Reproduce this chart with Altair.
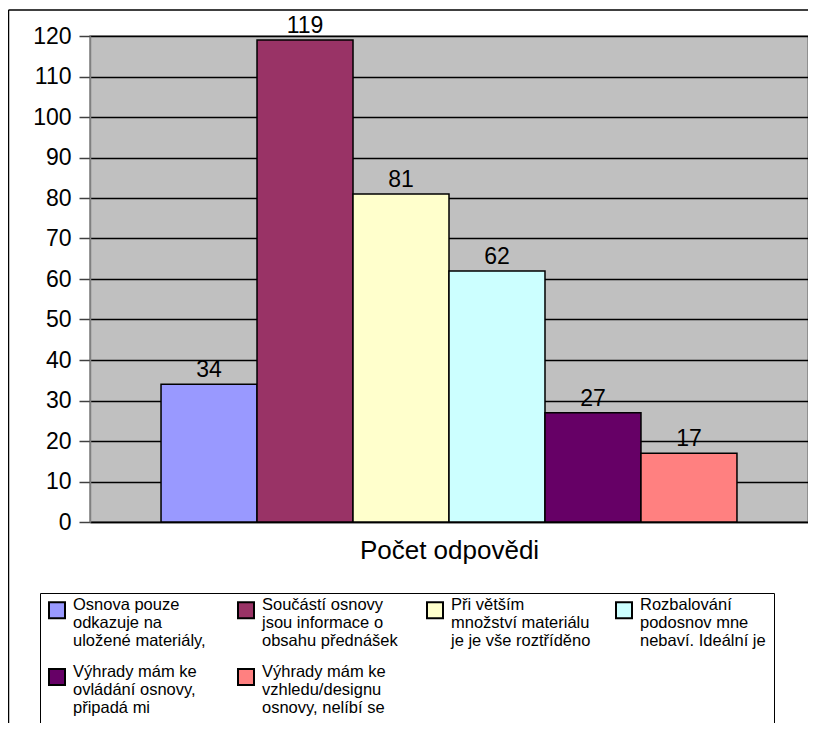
import altair as alt
import pandas as pd

# ---- data ----
categories = [
    "Osnova pouze\nodkazuje na\nuložené materiály,",
    "Součástí osnovy\njsou informace o\nobsahu přednášek",
    "Při větším\nmnožství materiálu\nje je vše roztříděno",
    "Rozbalování\npodosnov mne\nnebaví. Ideální je",
    "Výhrady mám ke\novládání osnovy,\npřipadá mi",
    "Výhrady mám ke\nvzhledu/designu\nosnovy, nelíbí se",
]
counts = [34, 119, 81, 62, 27, 17]
colors = ["#9999FF", "#993366", "#FFFFCC", "#CCFFFF", "#660066", "#FF8080"]
y_ticks = list(range(0, 121, 10))
x_title = "Počet odpovědi"

FONT = "Liberation Sans"
W, H = 718, 486

df = pd.DataFrame({"kategorie": categories, "pocet": counts})
one = pd.DataFrame({"a": [0]})

x_enc = alt.X(
    "kategorie:N",
    sort=categories,
    scale=alt.Scale(paddingInner=0, paddingOuter=0.74),
    axis=alt.Axis(
        title=x_title, labels=False, ticks=False, domain=True,
        domainColor="black", domainWidth=1.5,
        titleFontSize=26, titleFontWeight="normal", titleFont=FONT,
        titleColor="black", titlePadding=15,
    ),
)
y_enc = alt.Y(
    "pocet:Q",
    scale=alt.Scale(domain=[0, 120], nice=False),
    axis=alt.Axis(
        title=None, values=y_ticks, grid=True, gridColor="black",
        gridWidth=1.5, gridOpacity=1, domainColor="#808080", domainWidth=1.5,
        tickColor="#404040", tickSize=11, tickWidth=1.5,
        labelFontSize=23, labelFont=FONT, labelColor="black", labelPadding=8,
    ),
)

legend = alt.Legend(
    title=None, orient="none", legendX=-50, legendY=557,
    direction="horizontal", columns=4, gridAlign="all",
    symbolType="square", symbolSize=256, symbolStrokeColor="black",
    symbolStrokeWidth=2, symbolOpacity=1,
    labelFontSize=16.5, labelFont=FONT, labelColor="black", labelLimit=0,
    labelExpr="split(datum.label, '\\n')", labelBaseline="alphabetic",
    labelOffset=7, columnPadding=21, rowPadding=14, padding=8,
    strokeColor="black", fillColor="white",
)

bars = alt.Chart(df).mark_bar(stroke="black", strokeWidth=1.5, opacity=1).encode(
    x=x_enc,
    y=y_enc,
    color=alt.Color("kategorie:N", sort=categories,
                    scale=alt.Scale(domain=categories, range=colors),
                    legend=legend),
)

labels = alt.Chart(df).mark_text(
    baseline="bottom", dy=-2, fontSize=23, font=FONT, color="black"
).encode(
    x=alt.X("kategorie:N", sort=categories),
    y=alt.Y("pocet:Q"),
    text="pocet:Q",
)

frame_top = alt.Chart(one).mark_rule(color="black", strokeWidth=1.5).encode(
    x=alt.value(-81.5), x2=alt.value(W), y=alt.value(-26)
)
frame_left = alt.Chart(one).mark_rule(color="black", strokeWidth=1.5).encode(
    x=alt.value(-81.5), y=alt.value(-26), y2=alt.value(H + 201)
)

chart = alt.layer(bars, labels, frame_top, frame_left).properties(
    width=W, height=H,
    autosize=alt.AutoSizeParams(type="none"),
    padding={"left": 82, "top": 28, "right": 0, "bottom": 201},
).configure(
    font=FONT, style={"guide-label": {"lineHeight": 18}}
).configure_view(
    fill="#C0C0C0", stroke="#808080", strokeWidth=1.5
)

chart.save("out.html", embed_options={"renderer": "svg", "actions": False})
